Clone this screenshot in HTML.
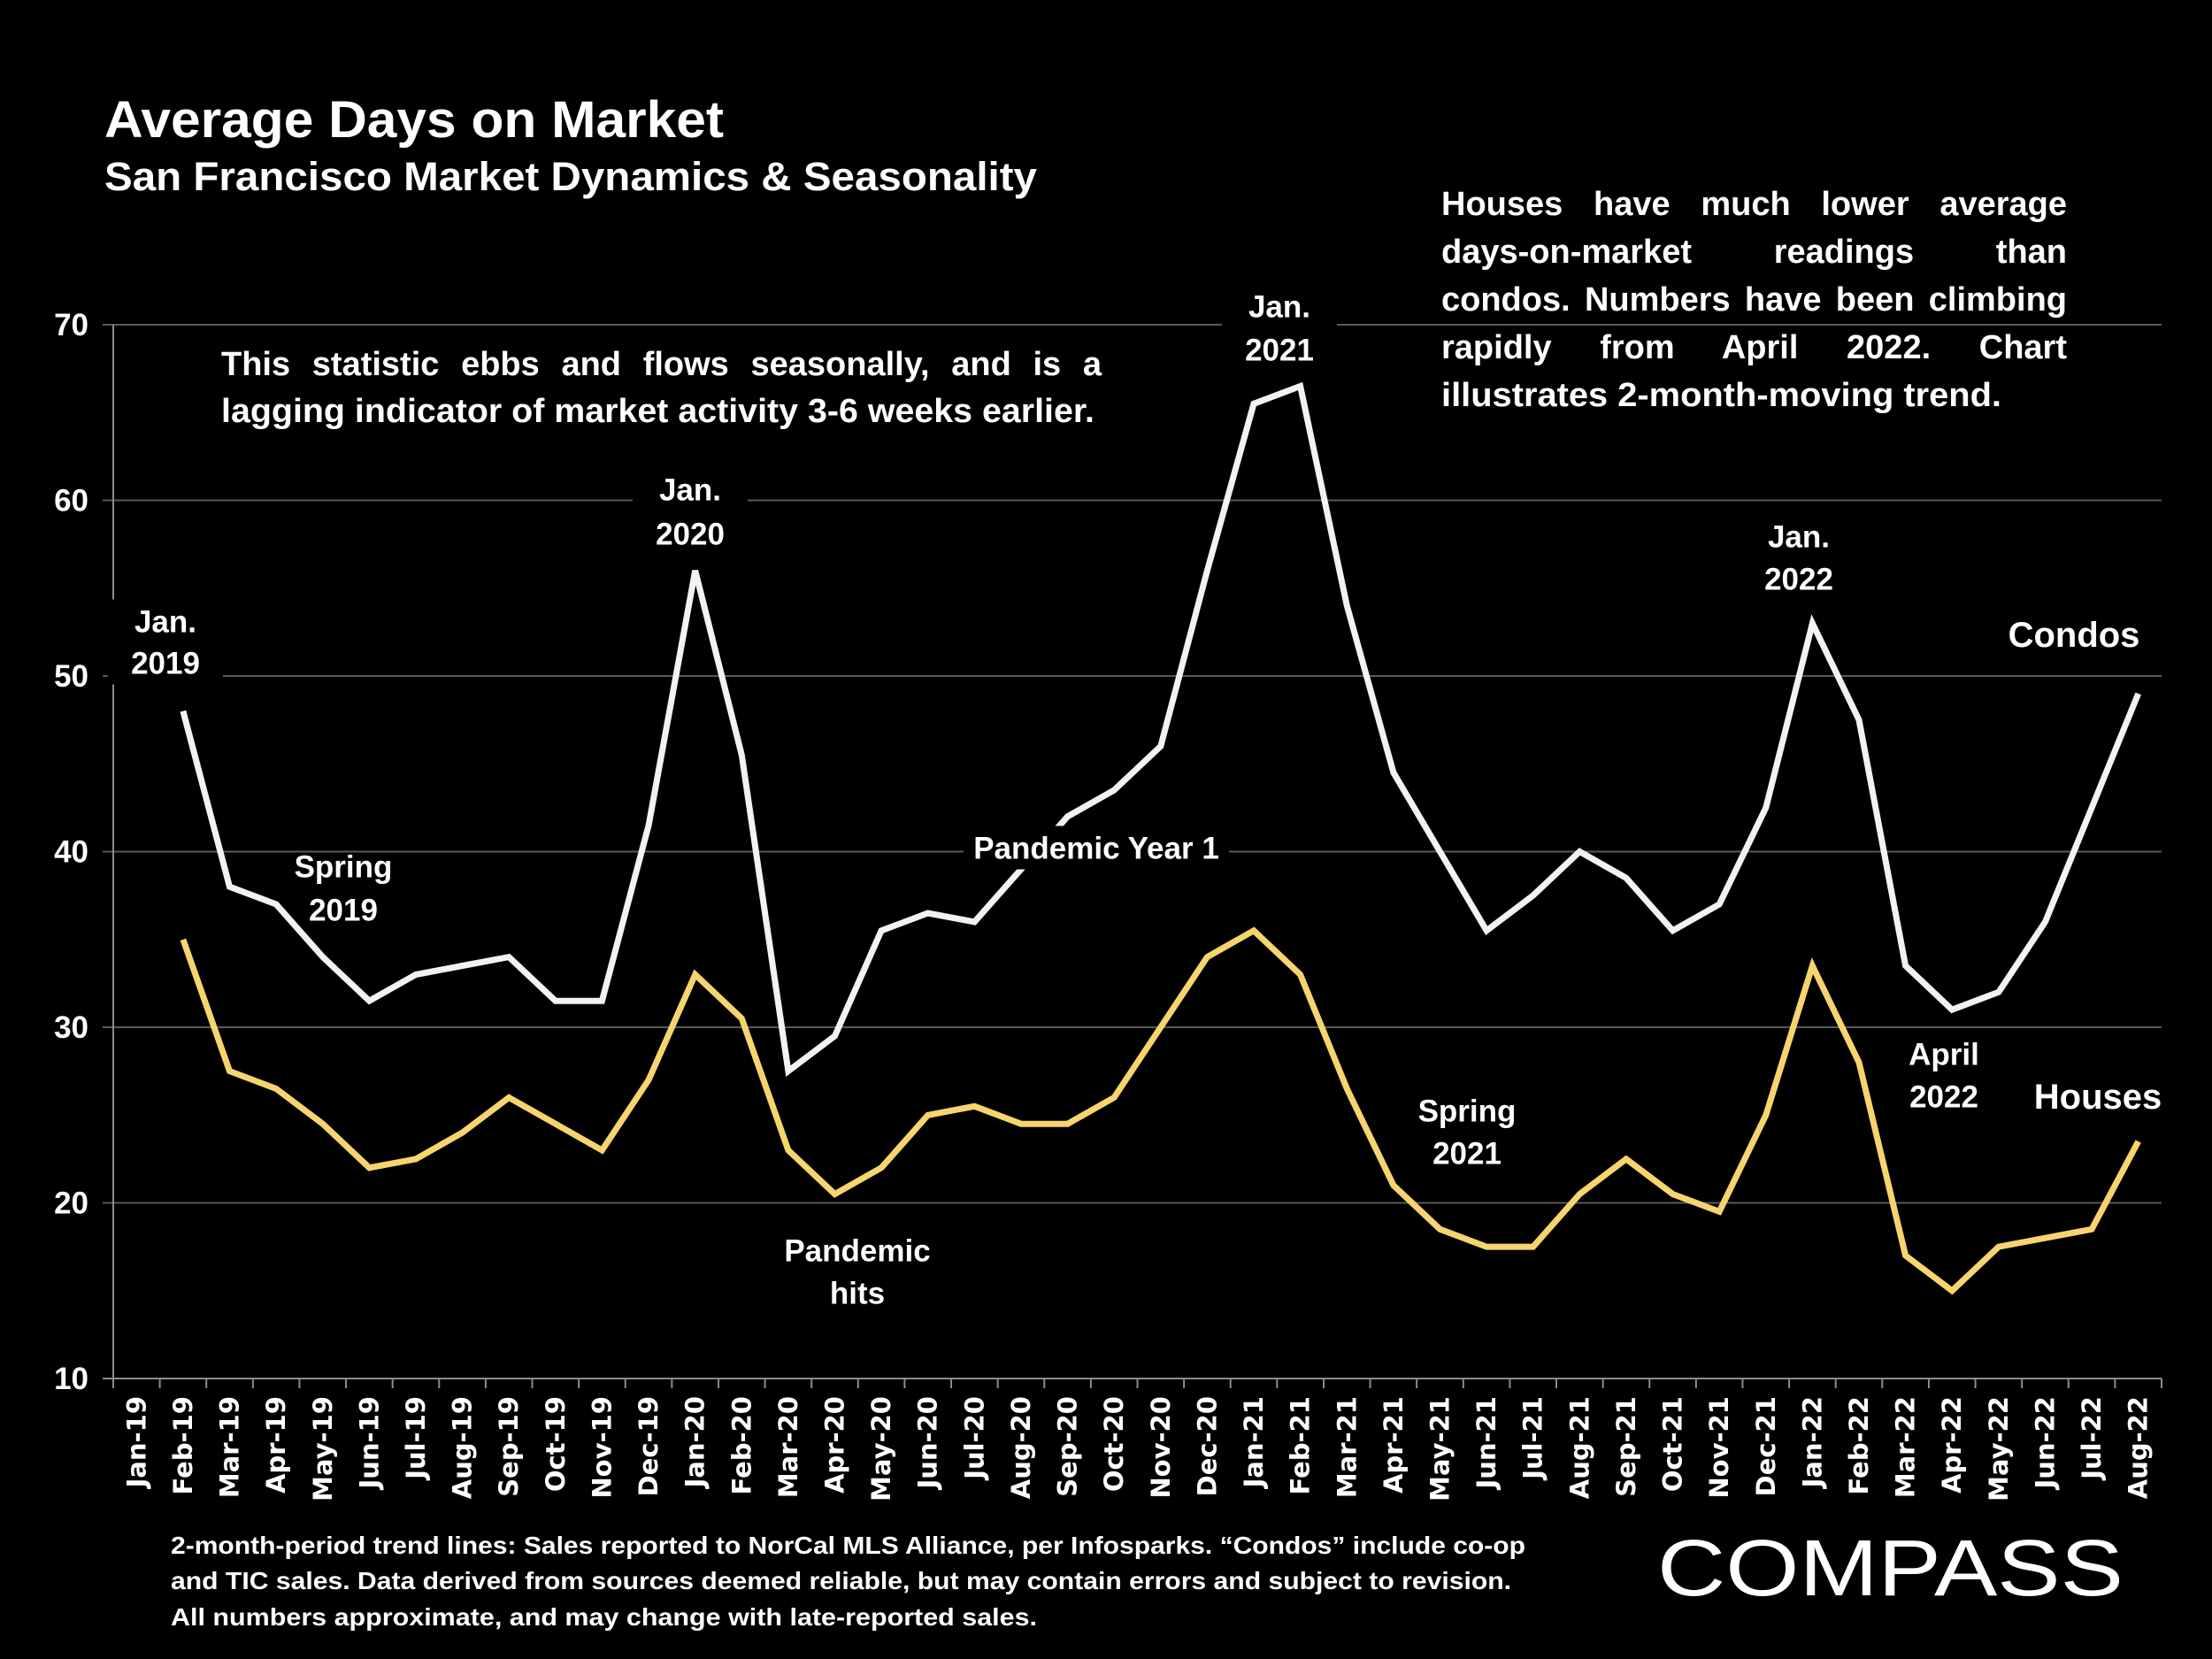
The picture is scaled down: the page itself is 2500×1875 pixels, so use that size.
<!DOCTYPE html>
<html><head><meta charset="utf-8"><style>
html,body{margin:0;padding:0;background:#000;}
svg{display:block;}
text{font-family:"Liberation Sans",sans-serif;font-weight:bold;fill:#fff;}
</style></head><body>
<svg id="chart" width="2500" height="1875" viewBox="0 0 2500 1875" xmlns="http://www.w3.org/2000/svg">
<rect width="2500" height="1875" fill="#000"/>
<text x="118" y="155" font-size="58" textLength="700" lengthAdjust="spacingAndGlyphs">Average Days on Market</text>
<text x="118" y="215" font-size="45" textLength="1054" lengthAdjust="spacingAndGlyphs">San Francisco Market Dynamics &amp; Seasonality</text>
<g id="grid"></g>
<g id="axes"></g>
<g id="series"></g>
<g id="notes"></g>
<g font-size="38">
<text class="just" data-w="995" x="250" y="424">This statistic ebbs and flows seasonally, and is a</text>
<text x="250" y="477" textLength="987" lengthAdjust="spacingAndGlyphs">lagging indicator of market activity 3-6 weeks earlier.</text>
</g>
<g font-size="38">
<text class="just" data-w="707" x="1629" y="243">Houses have much lower average</text>
<text class="just" data-w="707" x="1629" y="297">days-on-market readings than</text>
<text class="just" data-w="707" x="1629" y="351">condos. Numbers have been climbing</text>
<text class="just" data-w="707" x="1629" y="405">rapidly from April 2022. Chart</text>
<text x="1629" y="459" textLength="633" lengthAdjust="spacingAndGlyphs">illustrates 2-month-moving trend.</text>
</g>
<g font-size="28">
<text x="193" y="1756" textLength="1531" lengthAdjust="spacingAndGlyphs">2-month-period trend lines: Sales reported to NorCal MLS Alliance, per Infosparks. “Condos” include co-op</text>
<text x="193" y="1796" textLength="1515" lengthAdjust="spacingAndGlyphs">and TIC sales. Data derived from sources deemed reliable, but may contain errors and subject to revision.</text>
<text x="193" y="1837" textLength="979" lengthAdjust="spacingAndGlyphs">All numbers approximate, and may change with late-reported sales.</text>
</g>
<text x="1873" y="1803" font-size="90" style="font-weight:normal" textLength="527" lengthAdjust="spacingAndGlyphs">COMPASS</text>
</svg>
<script>
const categories=["Jan-19","Feb-19","Mar-19","Apr-19","May-19","Jun-19","Jul-19","Aug-19","Sep-19","Oct-19","Nov-19","Dec-19","Jan-20","Feb-20","Mar-20","Apr-20","May-20","Jun-20","Jul-20","Aug-20","Sep-20","Oct-20","Nov-20","Dec-20","Jan-21","Feb-21","Mar-21","Apr-21","May-21","Jun-21","Jul-21","Aug-21","Sep-21","Oct-21","Nov-21","Dec-21","Jan-22","Feb-22","Mar-22","Apr-22","May-22","Jun-22","Jul-22","Aug-22"];
const condos=[null,48,38,37,34,31.5,33,33.5,34,31.5,31.5,41.5,56,45.5,27.5,29.5,35.5,36.5,36,39,42,43.5,46,56,65.5,66.5,54,44.5,40,35.5,37.5,40,38.5,35.5,37,42.5,53,47.5,33.5,31,32,36,42.5,49];
const houses=[null,35,27.5,26.5,24.5,22,22.5,24,26,24.5,23,27,33,30.5,23,20.5,22,25,25.5,24.5,24.5,26,30,34,35.5,33,26.5,21,18.5,17.5,17.5,20.5,22.5,20.5,19.5,25,33.5,28,17,15,17.5,18,18.5,23.5];
const yTicks=[10,20,30,40,50,60,70];

const NS="http://www.w3.org/2000/svg";
const L=128,R=2443,T=367,B=1558,yMin=10,yMax=70;
const band=(R-L)/categories.length;
const x=i=>L+band*(i+0.5);
const y=v=>B-(v-yMin)/(yMax-yMin)*(B-T);
function mk(tag,attrs,parent){const e=document.createElementNS(NS,tag);for(const k in attrs)e.setAttribute(k,attrs[k]);parent.appendChild(e);return e;}
const grid=document.getElementById('grid'),axes=document.getElementById('axes'),series=document.getElementById('series'),notes=document.getElementById('notes');
yTicks.forEach(v=>{
  const ln=mk('line',{x1:L-12,x2:R,y1:y(v),y2:y(v),stroke:v===10?'#8c8c8c':'#595959','stroke-width':2},grid);
  
  
  const t=mk('text',{x:100,y:y(v)+12,'font-size':35,'text-anchor':'end'},axes);
  t.textContent=v;
  
  
});
const ax=mk('line',{x1:L,x2:L,y1:T,y2:B,stroke:'#8c8c8c','stroke-width':2},axes);


for(let i=0;i<=categories.length;i++){
  const tk=mk('line',{x1:L+band*i,x2:L+band*i,y1:B,y2:B+11,stroke:'#8c8c8c','stroke-width':2},axes);
  
  
}
categories.forEach((c,i)=>{
  const t=mk('text',{x:0,y:0,'font-size':29,'text-anchor':'end',transform:`translate(${x(i)+10},${B+20}) rotate(-90)`,style:'font-family:"DejaVu Sans",sans-serif'},axes);
  t.textContent=c;
  
  
});
function line(vals,color,name){
  let d='';vals.forEach((v,i)=>{if(v==null)return;d+=(d?'L':'M')+x(i).toFixed(1)+','+y(v).toFixed(1);});
  const p=mk('path',{d:d,fill:'none',stroke:color,'stroke-width':7,'stroke-linejoin':'miter'},series);
  
  
}
line(condos,'#f2f2f2','condos-line');
line(houses,'#f7d46e','houses-line');
function note(lines,cx,cy,name,color,size,bg){
  const g=mk('g',{},notes);
  
  
  const fs=size||35;
  if(bg){const w=bg;mk('rect',{x:cx-w/2,y:cy[0]-fs*0.7,width:w,height:(cy[cy.length-1]-cy[0])+fs*1.4,fill:'#000'},g);}
  lines.forEach((s,k)=>{const t=mk('text',{x:cx,y:cy[k]+fs*0.35,'font-size':fs,'text-anchor':'middle',fill:color||'#fff'},g);t.textContent=s;});
}
note(['Jan.','2019'],187,[702,749],'label-jan-2019',null,35,130);
note(['Spring','2019'],388,[979,1028],'label-spring-2019',null,35,0);
note(['Jan.','2020'],780,[553,603],'label-jan-2020',null,35,130);
note(['Jan.','2021'],1446,[346,395],'label-jan-2021',null,35,130);
note(['Pandemic Year 1'],1239,[958],'label-pandemic-year-1',null,35,300);
note(['Pandemic','hits'],969,[1413,1461],'label-pandemic-hits',null,35,170);
note(['Spring','2021'],1658,[1255,1303],'label-spring-2021',null,35,130);
note(['Jan.','2022'],2033,[606,654],'label-jan-2022',null,35,130);
note(['April','2022'],2197,[1191,1239],'label-april-2022',null,35,110);
note(['Condos'],2344,[717],'legend-condos',null,40,160);
note(['Houses'],2371,[1239],'legend-houses','#f7d46e',40,160);
document.querySelectorAll('text.just').forEach(t=>{
  const target=+t.getAttribute('data-w');
  const words=t.textContent.trim().split(/\s+/).length;
  const w=t.getComputedTextLength();
  if(words>1&&w<target){t.setAttribute('word-spacing',((target-w)/(words-1)).toFixed(2));}
  else if(w>target){t.setAttribute('textLength',target);t.setAttribute('lengthAdjust','spacingAndGlyphs');}
});
</script>
</body></html>
